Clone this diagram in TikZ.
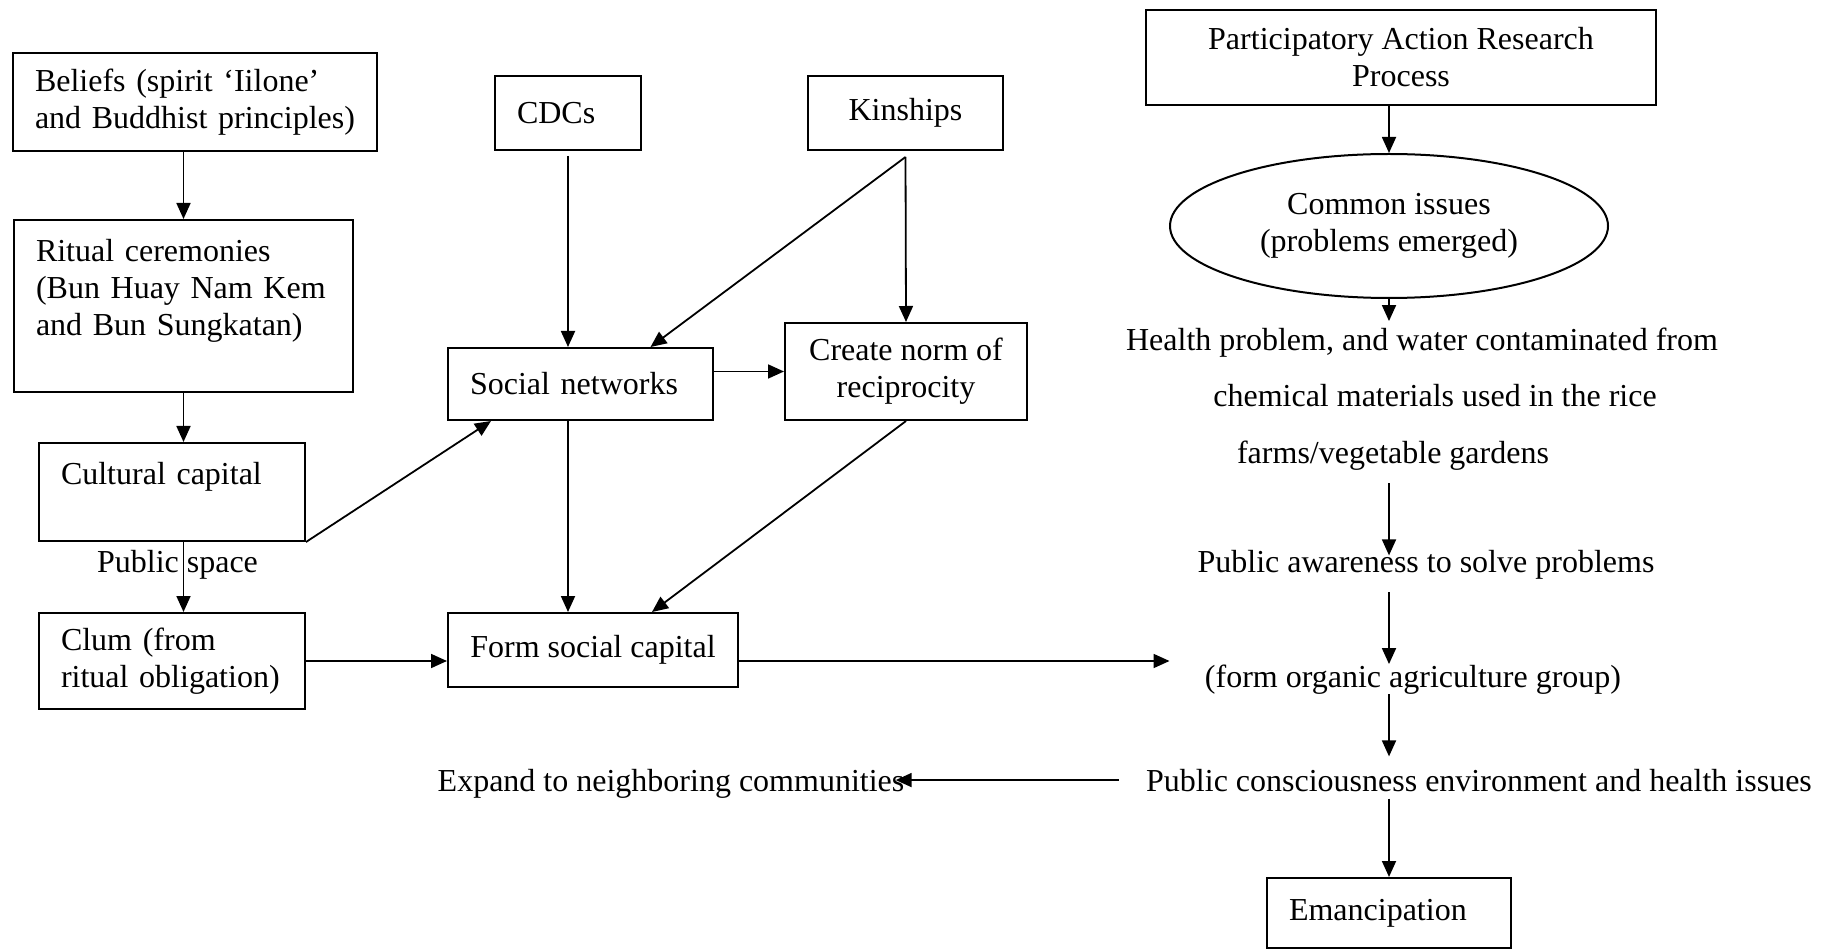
\documentclass[tikz,border=0pt]{standalone}
\usepackage{fontspec}
\setmainfont{Liberation Serif}
\usepackage{xcolor}
\usepackage{tikz}
\usetikzlibrary{arrows.meta,shapes.geometric}

\begin{document}
\begin{tikzpicture}[x=0.5pt,y=-0.5pt,
  every node/.style={font=\fontsize{16}{18.5}\selectfont},
  box/.style={draw=drawColor,line width=1pt,inner xsep=11pt,inner ysep=0pt},
  lbox/.style={box,align=left},
  cbox/.style={box,align=center},
  tbox/.style={box,align=left,inner ysep=10pt,text height=11pt},
  txt/.style={text=drawColor,inner sep=0pt,anchor=base},
  arr/.style={draw=drawColor,line width=0.9pt,-{Triangle[length=8pt,width=7pt]}}]
\definecolor{drawColor}{RGB}{0,0,0}
\useasboundingbox (0,0) rectangle (1846,951);

\node[lbox,text width=160pt,minimum height=49pt] (beliefs) at (195,102) {Beliefs (spirit ‘Iilone’\\and Buddhist principles)};
\node[tbox,text width=147.5pt,text depth=55pt] (ritual) at (183.5,306) {Ritual ceremonies\\(Bun Huay Nam Kem\\and Bun Sungkatan)};
\node[tbox,text width=111pt,text depth=18pt] (cultural) at (172,492) {Cultural capital};
\node[lbox,text width=111pt,minimum height=48pt] (clum) at (172,661) {Clum (from\\ritual obligation)};

\node[lbox,text width=51pt,minimum height=37pt] (cdcs) at (568,113) {CDCs};
\node[cbox,minimum width=97.5pt,minimum height=37pt] (kin) at (905.5,113) {Kinships};
\node[lbox,text width=110.5pt,minimum height=36pt] (social) at (580.5,384) {Social networks};
\node[cbox,minimum width=121pt,minimum height=48.5pt] (create) at (906,371.5) {Create norm of\\reciprocity};
\node[cbox,minimum width=145pt,minimum height=37pt] (form) at (593,650) {Form social capital};

\node[cbox,minimum width=255pt,minimum height=47.5pt] (par) at (1401,57.5) {Participatory Action Research\\Process};
\node[draw=drawColor,line width=1pt,ellipse,inner sep=0pt,minimum width=219pt,minimum height=72pt,align=center] (ell) at (1389,226) {Common issues\\(problems emerged)};
\node[txt] (health) at (1422,351) {Health problem, and water contaminated from};
\node[txt] (chem) at (1435,407) {chemical materials used in the rice};
\node[txt] (farms) at (1393,464) {farms/vegetable gardens};
\node[txt] (aware) at (1426,572) {Public awareness to solve problems};
\node[txt] (organic) at (1413,687) {(form organic agriculture group)};
\node[txt] (conscious) at (1479,791) {Public consciousness environment and health issues};
\node[txt] (expand) at (671,791) {Expand to neighboring communities};
\node[lbox,text width=100pt,minimum height=35pt] (eman) at (1389,913) {Emancipation};

\path[arr] (beliefs.south -| ritual.north) -- (ritual.north);
\path[arr] (ritual.south) -- (ritual.south |- cultural.north);
\path[arr] (cultural.south -| ritual.south) -- node[txt,anchor=center,pos=0.33,xshift=-3pt] (pubspace) {Public space} (clum.north -| ritual.south);
\path[arr] (clum.east) -- (clum.east -| form.west);
\path[arr] (cultural.south east) -- ([xshift=22pt]social.south west);

\path[arr,shorten <=2.5pt] (cdcs.south) -- (cdcs.south |- social.north);
\path[arr] ([yshift=-3pt]kin.south) -- ([xshift=35pt]social.north);
\path[arr] ([yshift=-3pt]kin.south) -- (create.north);
\path[arr] (social.east |- create.west) -- (create.west);
\path[arr] (cdcs.south |- social.south) -- (cdcs.south |- form.north);
\path[arr] (create.south) -- ([xshift=29.5pt]form.north);
\path[arr,shorten >=17.5pt] (form.east |- clum.east) -- (clum.east -| organic.west);

\path[arr] (par.south -| ell.north) -- (ell.north);
\path[arr,shorten >=3.5pt] (ell.south) -- (ell.south |- health.north);
\path[arr,shorten <=6pt,shorten >=-3pt] (ell.south |- farms.south) -- (ell.south |- aware.north);
\path[arr,shorten <=6.5pt] (ell.south |- aware.south) -- (ell.south |- organic.north);
\path[arr,shorten >=6pt] (ell.south |- organic.south) -- (ell.south |- conscious.north);
\path[arr,shorten <=13.5pt,shorten >=-4.5pt] (conscious.west) -- (conscious.west -| expand.east);
\path[arr,shorten <=3.5pt] (conscious.south -| eman.north) -- (eman.north);
\end{tikzpicture}
\end{document}
